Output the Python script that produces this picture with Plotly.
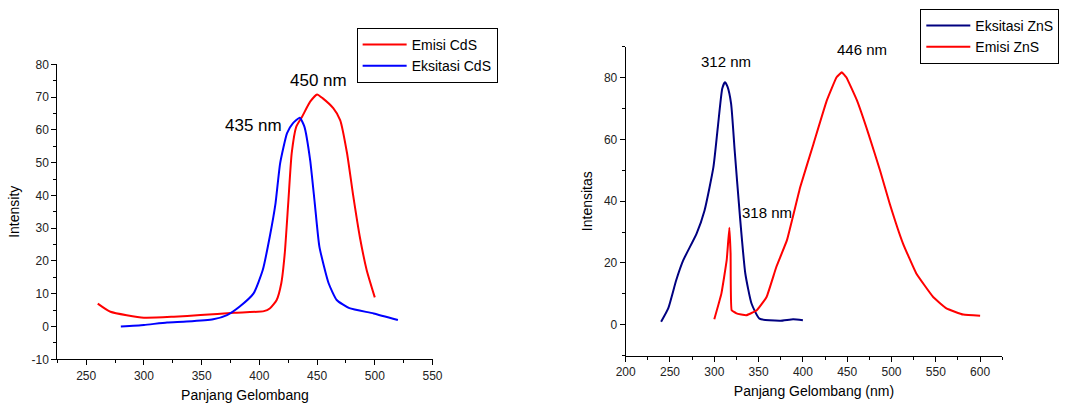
import plotly.graph_objects as go

# CdS (left panel)
cds_em_x = [260, 271, 300, 326, 349, 378, 404, 409, 415, 419, 422, 425, 428, 432, 437, 444, 450, 455, 464, 470, 476, 481, 487, 493, 500]
cds_em_y = [7.0, 4.5, 2.7, 3.0, 3.5, 4.2, 4.7, 5.5, 8.1, 13.2, 22.3, 37.6, 52.8, 61.0, 64.0, 68.6, 70.8, 69.6, 66.6, 63.0, 52.8, 40.6, 27.4, 17.2, 8.9]
cds_ex_x = [280, 300, 320, 337, 360, 372, 383, 395, 403, 409, 414, 418, 424, 429, 435, 439, 444, 448, 452, 460, 467, 478, 499, 520]
cds_ex_y = [0.0, 0.5, 1.2, 1.5, 2.2, 3.5, 6.1, 10.1, 17.3, 27.4, 37.6, 49.8, 59.0, 62.0, 63.7, 61.0, 50.8, 37.6, 24.4, 13.2, 8.1, 5.6, 4.0, 2.0]
cds_yticks = [-10, 0, 10, 20, 30, 40, 50, 60, 70, 80]

# ZnS (right panel)
zns_ex_x = [240, 248, 257, 265, 280, 289, 299, 304, 309, 312, 315, 319, 323, 329, 335, 342, 351, 374, 389, 400]
zns_ex_y = [1.0, 5.3, 14.4, 20.9, 29.5, 37.0, 51.0, 64.0, 76.5, 78.5, 77.0, 71.5, 56.4, 34.9, 16.6, 6.9, 2.0, 1.3, 1.8, 1.5]
zns_em_x = [300, 308, 314, 317, 318.4, 319.6, 325, 336, 348, 359, 370, 382, 397, 412, 427, 438, 444, 449, 461, 474, 487, 498, 513, 528, 547, 562, 581, 600]
zns_em_y = [1.8, 10.1, 20.9, 31.4, 23.0, 4.7, 3.7, 3.1, 4.7, 9.0, 18.7, 27.4, 44.6, 58.6, 72.6, 80.1, 81.7, 80.1, 72.6, 61.8, 50.0, 39.2, 26.3, 16.6, 9.0, 5.3, 3.3, 2.9]

FONT = "Liberation Sans, Arial, sans-serif"

fig = go.Figure()
sm = 0.5
fig.add_trace(go.Scatter(x=cds_em_x, y=cds_em_y, name="Emisi CdS", mode="lines",
                         line=dict(color="#FF0000", width=2, shape="spline", smoothing=sm),
                         xaxis="x", yaxis="y", legend="legend"))
fig.add_trace(go.Scatter(x=cds_ex_x, y=cds_ex_y, name="Eksitasi CdS", mode="lines",
                         line=dict(color="#0000FF", width=2, shape="spline", smoothing=sm),
                         xaxis="x", yaxis="y", legend="legend"))
fig.add_trace(go.Scatter(x=zns_ex_x, y=zns_ex_y, name="Eksitasi ZnS", mode="lines",
                         line=dict(color="#000080", width=2, shape="spline", smoothing=sm),
                         xaxis="x2", yaxis="y2", legend="legend2"))
fig.add_trace(go.Scatter(x=zns_em_x, y=zns_em_y, name="Emisi ZnS", mode="lines",
                         line=dict(color="#FF0000", width=2, shape="spline", smoothing=0.3),
                         xaxis="x2", yaxis="y2", legend="legend2"))

def ax(title, rng, dtick, minor, domain, anchor, standoff=8):
    return dict(title=dict(text=title, font=dict(size=14, color="black"), standoff=standoff),
                range=rng, dtick=dtick, domain=domain, anchor=anchor, automargin=False,
                showline=True, linecolor="black", linewidth=1, mirror=False,
                ticks="outside", ticklen=5, tickcolor="black", tickwidth=1,
                minor=dict(ticks="outside", ticklen=3, dtick=minor, tickcolor="black"),
                showgrid=False, zeroline=False,
                tickfont=dict(size=12, color="#222"))

yax1 = ax("Intensity", [-10, 80], 10, 5, [0.115, 0.8416], "x")
yax1.update(tickmode="array", tickvals=cds_yticks, ticktext=[str(v) for v in cds_yticks])

fig.update_layout(
    width=1084, height=406,
    margin=dict(l=0, r=0, t=0, b=0),
    plot_bgcolor="white", paper_bgcolor="white",
    font=dict(family=FONT, color="black"),
    xaxis=ax("Panjang Gelombang", [225, 550], 50, 25, [0.0529, 0.399], "y"),
    yaxis=yax1,
    xaxis2=ax("Panjang Gelombang (nm)", [200, 625], 50, 25, [0.5772, 0.9246], "y2"),
    yaxis2=ax("Intensitas", [-10, 90], 20, 10, [0.1239, 0.885], "x2"),
    legend=dict(x=0.329, y=0.931, xanchor="left", yanchor="top",
                bordercolor="black", borderwidth=1, font=dict(size=14),
                itemwidth=44, tracegroupgap=0, bgcolor="white"),
    legend2=dict(x=0.849, y=0.978, xanchor="left", yanchor="top",
                 bordercolor="black", borderwidth=1, font=dict(size=14),
                 itemwidth=44, tracegroupgap=0, bgcolor="white"),
    showlegend=True,
)

labels = [
    ("450 nm", 451, 75.2, "x", "y", 17),
    ("435 nm", 395, 61.2, "x", "y", 17),
    ("312 nm", 313, 85.2, "x2", "y2", 15),
    ("446 nm", 467, 89.0, "x2", "y2", 15),
    ("318 nm", 359, 36.4, "x2", "y2", 15),
]
for txt, x, y, xr, yr, fs in labels:
    fig.add_annotation(text=txt, x=x, y=y, xref=xr, yref=yr, showarrow=False,
                       font=dict(size=fs, color="black"))

# drop the default page margin so the figure sits at the window's corner
fig.write_html("out.html", config={"displayModeBar": False},
               post_script="document.body.style.margin='0';")
